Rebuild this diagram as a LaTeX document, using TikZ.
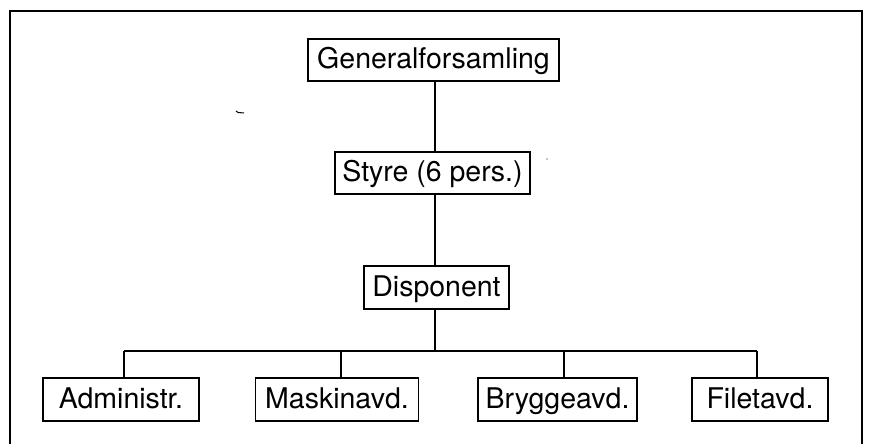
\documentclass[tikz,border=0pt]{standalone}
\usepackage{fontspec}
\setmainfont{TeX Gyre Heros}
\begin{document}
\begin{tikzpicture}[x=1pt,y=-1pt,
  orgbox/.style={draw, line width=1.3pt, inner sep=0pt, font=\fontsize{28.5}{30}\selectfont,
    text height=20.5pt, text depth=3pt, minimum height=42pt},
  conn/.style={line width=1.3pt}]
\useasboundingbox (0,0) rectangle (870,444);
% frame (open at bottom)
\draw[line width=1.3pt] (10,444) -- (10,11) -- (862,11) -- (862,444);
% nodes
\node[orgbox, minimum width=251pt] (G) at (433.5,60) {Generalforsamling};
\node[orgbox, minimum width=195pt] (S) at (432.5,173) {Styre (6 pers.)};
\node[orgbox, minimum width=145pt, minimum height=43pt] (D) at (436.5,287.5) {Disponent};
\node[orgbox, minimum width=156pt, minimum height=43pt] (A) at (121,399.5) {Administr.};
\node[orgbox, minimum width=163pt, minimum height=43pt] (M) at (337,399.5) {Maskinavd.};
\node[orgbox, minimum width=159pt, minimum height=43pt] (B) at (557.5,399.5) {Bryggeavd.};
\node[orgbox, minimum width=136pt, minimum height=43pt] (F) at (760,399.5) {Filetavd.};
% spine and bus coordinates
\coordinate (spine) at (435,0);
\coordinate (bus) at (0,351);
\coordinate (d1) at (124,351);
\coordinate (d2) at (341,351);
\coordinate (d3) at (564,351);
\coordinate (d4) at (757,351);
% connectors
\draw[conn] (spine |- G.south) -- (spine |- S.north);
\draw[conn] (spine |- S.south) -- (spine |- D.north);
\draw[conn] (spine |- D.south) -- (spine |- bus);
\draw[conn] (d1) -- (d4);
\draw[conn] (d1) -- (d1 |- A.north);
\draw[conn] (d2) -- (d2 |- M.north);
\draw[conn] (d3) -- (d3 |- B.north);
\draw[conn] (d4) -- (d4 |- F.north);
% small scan marks
\draw[line width=1pt] (236,111) -- (238,112.5) -- (244,113);
\fill (547,159) circle (0.7pt);
\end{tikzpicture}
\end{document}
